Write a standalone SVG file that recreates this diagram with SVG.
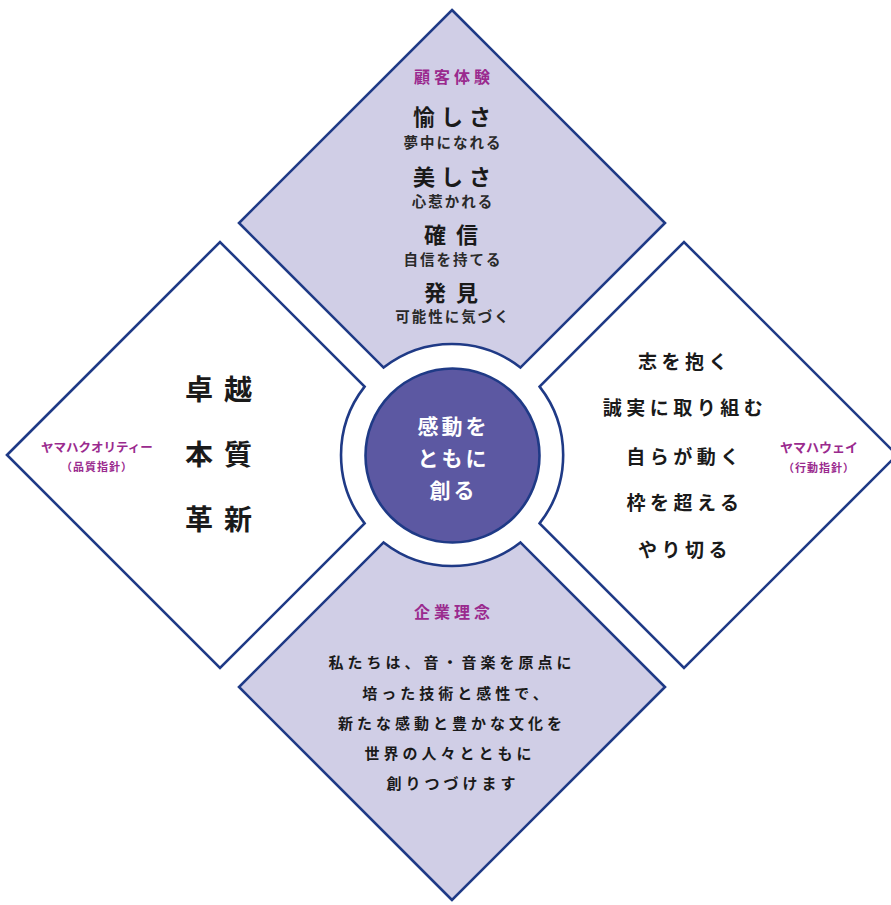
<svg xmlns="http://www.w3.org/2000/svg" width="891" height="905" viewBox="0 0 891 905">
<style>
.dia{stroke:#1f3a86;stroke-width:2.6;stroke-linejoin:miter}
.lav{fill:#d0cee6}
.wht{fill:#ffffff}
text{font-family:"Noto Sans CJK JP","Noto Sans",sans-serif;text-anchor:middle}
.mg{fill:#9a2a8e;font-weight:bold}
.h{fill:#1a1a1a;font-weight:bold}
.s{fill:#2a2a2a;font-weight:bold}
.c{fill:#ffffff;font-weight:bold}
</style>
<rect width="891" height="905" fill="#ffffff"/>
<g id="top-experience">
<path class="dia lav" d="M452,10 L665,223 L520.4,367.6 A111,111 0 0 0 383.6,367.6 L239,223 Z"/>
<text class="mg" x="454" y="83" font-size="16" letter-spacing="4">顧客体験</text>
<text class="h" x="455" y="125" font-size="22" letter-spacing="6">愉しさ</text>
<text class="s" x="453" y="148" font-size="14.5" letter-spacing="2">夢中になれる</text>
<text class="h" x="455" y="185" font-size="22" letter-spacing="6">美しさ</text>
<text class="s" x="453" y="207" font-size="14.5" letter-spacing="2">心惹かれる</text>
<text class="h" x="456" y="243" font-size="22" letter-spacing="10">確信</text>
<text class="s" x="453" y="265" font-size="14.5" letter-spacing="2">自信を持てる</text>
<text class="h" x="456" y="301" font-size="22" letter-spacing="10">発見</text>
<text class="s" x="453" y="322" font-size="14.5" letter-spacing="2">可能性に気づく</text>
</g>
<g id="left-quality">
<path class="dia wht" d="M7,455 L220,242 L364.6,386.6 A111,111 0 0 0 364.6,523.4 L220,668 Z"/>
<text class="h" x="224" y="400" font-size="28" letter-spacing="11">卓越</text>
<text class="h" x="224" y="465" font-size="28" letter-spacing="11">本質</text>
<text class="h" x="224" y="530" font-size="28" letter-spacing="11">革新</text>
<text class="mg" x="97" y="452" font-size="12.5">ヤマハクオリティー</text>
<text class="mg" x="97" y="471" font-size="11" letter-spacing="1">（品質指針）</text>
</g>
<g id="right-way">
<path class="dia wht" d="M897,455 L684,668 L539.6,523.4 A111,111 0 0 0 539.6,386.6 L684,242 Z"/>
<text class="h" x="685" y="369" font-size="19" letter-spacing="4.5">志を抱く</text>
<text class="h" x="685" y="415" font-size="19" letter-spacing="4.5">誠実に取り組む</text>
<text class="h" x="685" y="464" font-size="19" letter-spacing="4.5">自らが動く</text>
<text class="h" x="685" y="510" font-size="19" letter-spacing="4.5">枠を超える</text>
<text class="h" x="685" y="557" font-size="19" letter-spacing="4.5">やり切る</text>
<text class="mg" x="819" y="452" font-size="13">ヤマハウェイ</text>
<text class="mg" x="819" y="472" font-size="11" letter-spacing="1">（行動指針）</text>
</g>
<g id="bottom-philosophy">
<path class="dia lav" d="M452,900 L239,687 L383.6,542.4 A111,111 0 0 0 520.4,542.4 L665,687 Z"/>
<text class="mg" x="454" y="618" font-size="16" letter-spacing="4">企業理念</text>
<text class="h" x="452" y="668" font-size="15" letter-spacing="4">私たちは、音・音楽を原点に</text>
<text class="h" x="457" y="699" font-size="15" letter-spacing="4">培った技術と感性で、</text>
<text class="h" x="452" y="729" font-size="15" letter-spacing="4">新たな感動と豊かな文化を</text>
<text class="h" x="450" y="759" font-size="15" letter-spacing="4">世界の人々とともに</text>
<text class="h" x="453" y="789" font-size="15" letter-spacing="4">創りつづけます</text>
</g>
<g id="center">
<circle cx="452.5" cy="455.5" r="87" fill="#5c58a2" stroke="#1f3a86" stroke-width="2.6"/>
<text class="c" x="453.5" y="434" font-size="21" letter-spacing="3">感動を</text>
<text class="c" x="453.5" y="466" font-size="21" letter-spacing="3">ともに</text>
<text class="c" x="453.5" y="498" font-size="21" letter-spacing="3">創る</text>
</g>
<g id="connectors"></g>
</svg>
